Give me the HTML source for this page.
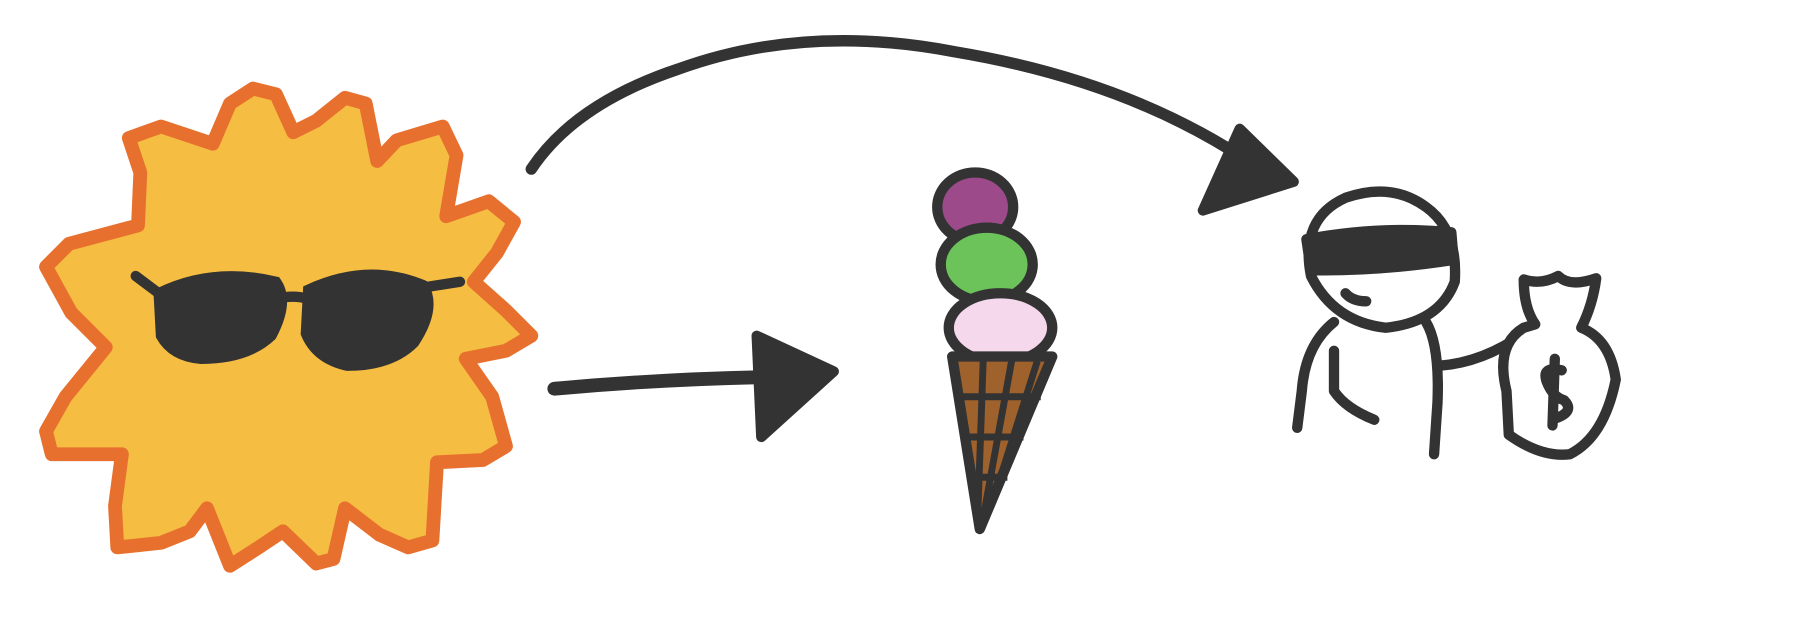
<!DOCTYPE html>
<html><head><meta charset="utf-8"><style>
html,body{margin:0;padding:0;background:#fff;}
svg{display:block;}
</style></head><body>
<svg width="1803" height="623" viewBox="0 0 1803 623">
<rect width="1803" height="623" fill="#fff"/>
<g transform="scale(1.15)">
<g>
<polygon fill="#F5BD42" stroke="#E8702E" stroke-width="12" stroke-linejoin="round"
points="185,125 200,90 220,77 240,82 255,115 275,105 300,85 318,90 328,140 345,122 385,110 397,135 388,188 425,175 447,193 432,220 412,245 440,270 462,292 440,305 405,312 428,345 440,388 420,400 380,402 376,470 355,476 330,465 300,442 290,486 275,490 246,462 225,476 200,492 180,442 165,462 140,472 102,476 100,440 106,395 45,395 40,375 57,345 92,302 62,272 40,232 60,212 120,196 122,150 112,120 140,110"/>
<g fill="#333" stroke="#333" stroke-width="9" stroke-linecap="round">
<path d="M138,255 Q185,232 240,245 Q252,262 236,292 Q215,312 175,312 Q150,310 140,292 Z"/>
<path d="M268,252 Q320,228 368,248 Q380,268 360,298 Q340,318 302,318 Q275,312 266,290 Z"/>
<path fill="none" d="M240,260 Q255,256 268,260"/>
<path fill="none" d="M138,255 L118,240"/>
<path fill="none" d="M368,250 L400,245"/>
</g>
</g>
<g fill="#333" stroke="#333" stroke-linecap="round" stroke-linejoin="round">
<path fill="none" stroke-width="12" d="M482,338 Q570,330 662,328"/>
<polygon stroke-width="9" points="658,292 725,323 662,380"/>
</g>
<g fill="#333" stroke="#333" stroke-linecap="round" stroke-linejoin="round">
<path fill="none" stroke-width="10" d="M462,147 Q500,90 590,60 Q700,20 830,45 Q980,70 1085,140"/>
<polygon stroke-width="9" points="1046,183 1078,112 1125,158"/>
</g>
<g stroke="#333" stroke-width="9" stroke-linejoin="round">
<ellipse cx="848" cy="180" rx="33" ry="30" fill="#9C4A8A"/>
<ellipse cx="858" cy="230" rx="40" ry="32" fill="#6CC35A"/>
<ellipse cx="870" cy="285" rx="45" ry="30" fill="#F5D8EC"/>
<polygon fill="#A0622D" points="828,310 915,310 852,460"/>
<g fill="none" stroke-width="6">
<path d="M832,345 L905,345 M838,380 L890,380 M843,415 L876,415"/>
<path d="M855,312 L850,455 M880,312 L855,450 M902,314 L862,440"/>
</g>
</g>
<g fill="none" stroke="#333" stroke-width="9" stroke-linecap="round" stroke-linejoin="round">
<path fill="#fff" d="M1140,240 Q1130,190 1170,172 Q1210,158 1240,180 Q1268,200 1265,245 Q1252,280 1205,285 Q1160,280 1140,240 Z"/>
<path fill="#333" d="M1136,208 Q1200,196 1262,202 L1264,226 Q1200,236 1140,235 Z"/>
<path d="M1170,255 Q1176,262 1188,262"/>
<path d="M1160,280 Q1135,300 1132,340 L1128,372"/>
<path d="M1160,305 L1160,340 Q1170,355 1195,365"/>
<path d="M1240,280 Q1252,300 1250,350 L1247,395"/>
<path d="M1252,318 Q1290,315 1325,290"/>
<path fill="#fff" d="M1325,285 Q1300,300 1310,340 L1312,378 Q1340,398 1365,395 Q1395,380 1405,330 Q1400,295 1375,285 Q1385,265 1388,242 Q1365,250 1355,240 Q1340,248 1325,243 Q1325,268 1335,282 Z"/>
<path d="M1358,322 Q1340,318 1345,332 Q1350,345 1360,348 Q1370,358 1352,364 M1352,312 L1350,370"/>
</g>
</g>
</svg>
</body></html>
